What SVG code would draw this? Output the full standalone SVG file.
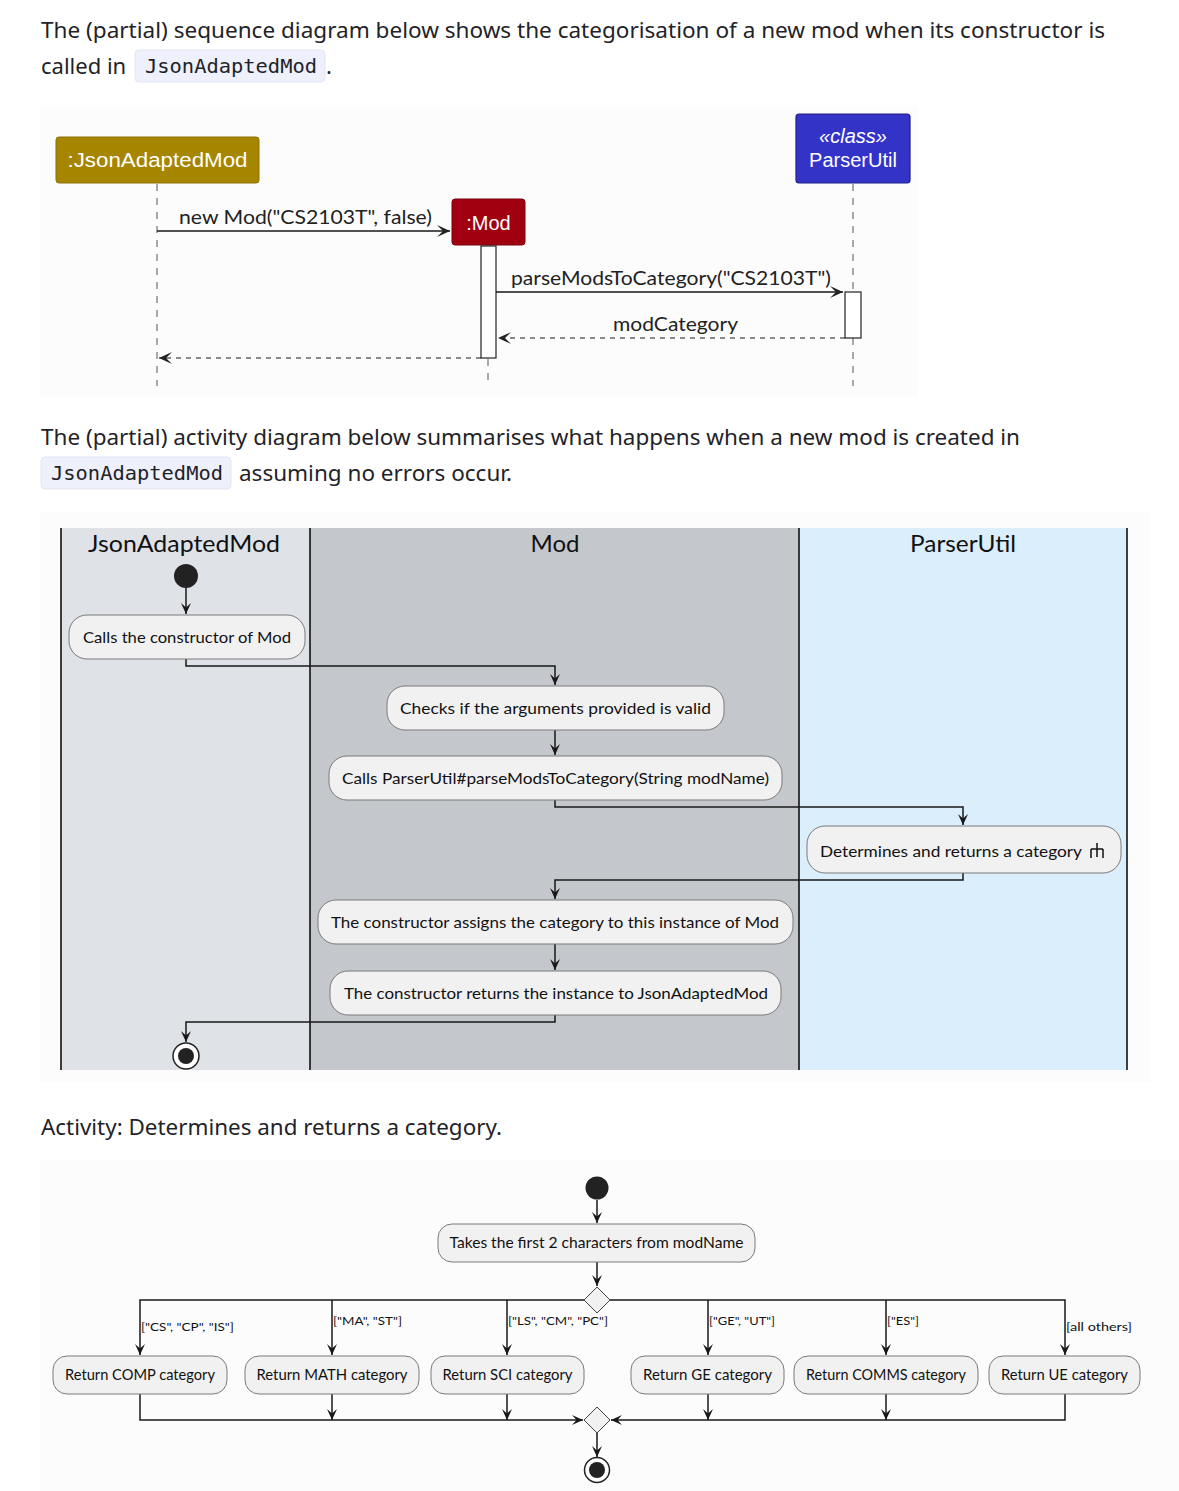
<svg xmlns="http://www.w3.org/2000/svg" width="1179" height="1491" viewBox="0 0 1179 1491">
<style>
.body{font-family:"Noto Sans","Open Sans",sans-serif;font-size:22px;fill:#1f2328}
.code{font-family:"DejaVu Sans Mono","Liberation Mono",monospace;font-size:20px;fill:#1f2328}
.codebox{fill:#eef0fb;stroke:#e3e5f5;stroke-width:1}
.seqt{font-family:"Lato","Noto Sans",sans-serif;font-size:19px;fill:#222}
.hdr{font-family:"Liberation Sans","Noto Sans",sans-serif;fill:#fff;font-size:20px}
.lane{font-family:"Lato","Noto Sans",sans-serif;font-size:24px;fill:#111}
.act{font-family:"Lato","Noto Sans",sans-serif;font-size:16px;fill:#111}
.act2{font-family:"Lato","Noto Sans",sans-serif;font-size:15px;fill:#111}
.guard{font-family:"Lato","Noto Sans",sans-serif;font-size:12px;fill:#111}
.node{fill:#f1f1f1;stroke:#7a7a7a;stroke-width:1}
.ln{fill:none;stroke:#181818;stroke-width:1.5}
.dash{fill:none;stroke:#181818;stroke-width:1.2;stroke-dasharray:5,5}
.life{fill:none;stroke:#555;stroke-width:1;stroke-dasharray:7,7}
.lanesep{stroke:#111;stroke-width:1.6}
.bg{fill:#fcfcfd}
</style>
<defs>
<marker id="ah" viewBox="-12 -6 13 12" refX="0" refY="0" markerWidth="13" markerHeight="12" orient="auto" markerUnits="userSpaceOnUse">
<path d="M0,0 L-11,-5 L-6.5,0 L-11,5 Z" fill="#181818"/>
</marker>
<marker id="sah" viewBox="-14 -7 15 14" refX="0" refY="0" markerWidth="15" markerHeight="14" orient="auto" markerUnits="userSpaceOnUse">
<path d="M0,0 L-13,-6 L-7,0 L-13,6 Z" fill="#222"/>
</marker>
</defs>
<rect x="0" y="0" width="1179" height="1491" fill="#ffffff"/>

<!-- paragraph 1 -->
<text class="body" x="41" y="38" textLength="1064" lengthAdjust="spacingAndGlyphs">The (partial) sequence diagram below shows the categorisation of a new mod when its constructor is</text>
<text class="body" x="41" y="74">called in</text>
<rect class="codebox" x="135" y="50" width="190" height="32" rx="4"/>
<text class="code" x="145" y="73" textLength="172" lengthAdjust="spacingAndGlyphs">JsonAdaptedMod</text>
<text class="body" x="326" y="74">.</text>

<!-- sequence diagram -->
<g id="sequence">
<rect class="bg" x="40" y="105" width="878" height="292"/>
<g id="seq-lifelines">
<line class="life" x1="157" y1="184" x2="157" y2="386"/>
<line class="life" x1="488" y1="359" x2="488" y2="386"/>
<line class="life" x1="853" y1="184" x2="853" y2="386"/>
</g>
<g id="p-json">
<rect x="56" y="137" width="203" height="46" rx="3" fill="#a68500" stroke="#8a7000" stroke-width="1"/>
<text class="hdr" x="157.5" y="167" text-anchor="middle" textLength="180" lengthAdjust="spacingAndGlyphs">:JsonAdaptedMod</text>
</g>
<g id="p-mod">
<rect x="452" y="199" width="73" height="46" rx="3" fill="#a00010" stroke="#7d000c" stroke-width="1"/>
<text class="hdr" x="488.5" y="230" text-anchor="middle" font-size="22">:Mod</text>
<rect x="481" y="246" width="15" height="112" fill="#ffffff" stroke="#222" stroke-width="1.2"/>
</g>
<g id="p-parser">
<rect x="796" y="114" width="114" height="69" rx="3" fill="#3333c8" stroke="#1f1f8a" stroke-width="1.2"/>
<text class="hdr" x="853" y="143" text-anchor="middle" font-style="italic">«class»</text>
<text class="hdr" x="853" y="167" text-anchor="middle">ParserUtil</text>
<rect x="845" y="292" width="16" height="46" fill="#ffffff" stroke="#222" stroke-width="1.2"/>
</g>
<g id="seq-messages">
<line class="ln" x1="157" y1="231" x2="450" y2="231" stroke-width="1.3" marker-end="url(#sah)"/>
<text class="seqt" x="179" y="224" textLength="253" lengthAdjust="spacingAndGlyphs">new Mod("CS2103T", false)</text>
<line class="ln" x1="496" y1="292" x2="843" y2="292" stroke-width="1.3" marker-end="url(#sah)"/>
<text class="seqt" x="511" y="285" textLength="320" lengthAdjust="spacingAndGlyphs">parseModsToCategory("CS2103T")</text>
<line class="dash" x1="845" y1="338" x2="498" y2="338" stroke-dasharray="3,3" marker-end="url(#sah)"/>
<text class="seqt" x="675.5" y="331" text-anchor="middle" textLength="125" lengthAdjust="spacingAndGlyphs">modCategory</text>
<line class="dash" x1="481" y1="358" x2="159" y2="358" stroke-dasharray="3,3" marker-end="url(#sah)"/>
</g>
</g>

<!-- paragraph 2 -->
<text class="body" x="41" y="445" textLength="979" lengthAdjust="spacingAndGlyphs">The (partial) activity diagram below summarises what happens when a new mod is created in</text>
<rect class="codebox" x="41" y="457" width="190" height="32" rx="4"/>
<text class="code" x="51" y="480" textLength="172" lengthAdjust="spacingAndGlyphs">JsonAdaptedMod</text>
<text class="body" x="239" y="481" textLength="273" lengthAdjust="spacingAndGlyphs">assuming no errors occur.</text>

<!-- activity diagram -->
<g id="activity">
<rect class="bg" x="40" y="512" width="1110" height="570"/>
<g id="lanes">
<rect x="61" y="528" width="249" height="542" fill="#dfe3e8"/>
<rect x="310" y="528" width="489" height="542" fill="#c4c8cc"/>
<rect x="799" y="528" width="328" height="542" fill="#dbeefc"/>
<line class="lanesep" x1="61" y1="528" x2="61" y2="1070"/>
<line class="lanesep" x1="310" y1="528" x2="310" y2="1070"/>
<line class="lanesep" x1="799" y1="528" x2="799" y2="1070"/>
<line class="lanesep" x1="1127" y1="528" x2="1127" y2="1070"/>
<text class="lane" x="184" y="552" text-anchor="middle" textLength="192" lengthAdjust="spacingAndGlyphs">JsonAdaptedMod</text>
<text class="lane" x="555" y="552" text-anchor="middle">Mod</text>
<text class="lane" x="963" y="552" text-anchor="middle" textLength="106" lengthAdjust="spacingAndGlyphs">ParserUtil</text>
</g>
<g id="a-connectors">
<path class="ln" d="M186,588 L186,614" marker-end="url(#ah)"/>
<path class="ln" d="M186,659 L186,666 L555,666 L555,685" marker-end="url(#ah)"/>
<path class="ln" d="M555,730 L555,755" marker-end="url(#ah)"/>
<path class="ln" d="M555,800 L555,807 L963,807 L963,825" marker-end="url(#ah)"/>
<path class="ln" d="M963,873 L963,880 L555,880 L555,899" marker-end="url(#ah)"/>
<path class="ln" d="M555,944 L555,970" marker-end="url(#ah)"/>
<path class="ln" d="M555,1015 L555,1022 L186,1022 L186,1042" marker-end="url(#ah)"/>
</g>
<g id="a-start"><circle cx="186" cy="576" r="12" fill="#222"/></g>
<g id="a-calls-ctor">
<rect class="node" x="69" y="615" width="236" height="44" rx="18"/>
<text class="act" x="187" y="643" text-anchor="middle" textLength="208" lengthAdjust="spacingAndGlyphs">Calls the constructor of Mod</text>
</g>
<g id="a-checks">
<rect class="node" x="387" y="686" width="337" height="44" rx="18"/>
<text class="act" x="555.5" y="714" text-anchor="middle" textLength="311" lengthAdjust="spacingAndGlyphs">Checks if the arguments provided is valid</text>
</g>
<g id="a-calls-parser">
<rect class="node" x="329" y="756" width="453" height="44" rx="18"/>
<text class="act" x="555.5" y="784" text-anchor="middle" textLength="427" lengthAdjust="spacingAndGlyphs">Calls ParserUtil#parseModsToCategory(String modName)</text>
</g>
<g id="a-determines">
<rect class="node" x="807" y="826" width="314" height="47" rx="18"/>
<text class="act" x="820" y="857" textLength="262" lengthAdjust="spacingAndGlyphs">Determines and returns a category</text>
<path d="M1097,843 L1097,857 M1091,849 L1103,849 M1091,849 L1091,858 M1103,849 L1103,858" fill="none" stroke="#111" stroke-width="1.5"/>
</g>
<g id="a-assigns">
<rect class="node" x="318" y="900" width="475" height="44" rx="18"/>
<text class="act" x="555" y="928" text-anchor="middle" textLength="448" lengthAdjust="spacingAndGlyphs">The constructor assigns the category to this instance of Mod</text>
</g>
<g id="a-returns">
<rect class="node" x="330" y="971" width="451" height="44" rx="18"/>
<text class="act" x="556" y="999" text-anchor="middle" textLength="424" lengthAdjust="spacingAndGlyphs">The constructor returns the instance to JsonAdaptedMod</text>
</g>
<g id="a-end">
<circle cx="186" cy="1056" r="13" fill="#ffffff" stroke="#222" stroke-width="1.5"/>
<circle cx="186" cy="1056" r="8" fill="#222"/>
</g>
</g>

<!-- paragraph 3 -->
<text class="body" x="41" y="1135" textLength="461" lengthAdjust="spacingAndGlyphs">Activity: Determines and returns a category.</text>

<!-- category activity -->
<g id="category">
<rect class="bg" x="40" y="1160" width="1139" height="331"/>
<g id="c-connectors">
<path class="ln" d="M597,1200 L597,1223" marker-end="url(#ah)"/>
<path class="ln" d="M597,1262 L597,1286" marker-end="url(#ah)"/>
<path class="ln" d="M584,1300 L140,1300 L140,1355" marker-end="url(#ah)"/>
<path class="ln" d="M332,1300 L332,1355" marker-end="url(#ah)"/>
<path class="ln" d="M507,1300 L507,1355" marker-end="url(#ah)"/>
<path class="ln" d="M610,1300 L1065,1300 L1065,1355" marker-end="url(#ah)"/>
<path class="ln" d="M708,1300 L708,1355" marker-end="url(#ah)"/>
<path class="ln" d="M886,1300 L886,1355" marker-end="url(#ah)"/>
<path class="ln" d="M140,1394 L140,1420 L583,1420" marker-end="url(#ah)"/>
<path class="ln" d="M1065,1394 L1065,1420 L611,1420" marker-end="url(#ah)"/>
<path class="ln" d="M332,1394 L332,1420" marker-end="url(#ah)"/>
<path class="ln" d="M507,1394 L507,1420" marker-end="url(#ah)"/>
<path class="ln" d="M708,1394 L708,1420" marker-end="url(#ah)"/>
<path class="ln" d="M886,1394 L886,1420" marker-end="url(#ah)"/>
<path class="ln" d="M597,1433 L597,1457" marker-end="url(#ah)"/>
<text class="guard" x="141" y="1331" textLength="93" lengthAdjust="spacingAndGlyphs">["CS", "CP", "IS"]</text>
<text class="guard" x="333" y="1325" textLength="69" lengthAdjust="spacingAndGlyphs">["MA", "ST"]</text>
<text class="guard" x="508" y="1325" textLength="100" lengthAdjust="spacingAndGlyphs">["LS", "CM", "PC"]</text>
<text class="guard" x="709" y="1325" textLength="66" lengthAdjust="spacingAndGlyphs">["GE", "UT"]</text>
<text class="guard" x="887" y="1325" textLength="32" lengthAdjust="spacingAndGlyphs">["ES"]</text>
<text class="guard" x="1066" y="1331" textLength="66" lengthAdjust="spacingAndGlyphs">[all others]</text>
</g>
<g id="c-start"><circle cx="597" cy="1188" r="11.5" fill="#222"/></g>
<g id="c-takes">
<rect class="node" x="438" y="1224" width="317" height="38" rx="14"/>
<text class="act2" x="596.5" y="1248" text-anchor="middle" textLength="294" lengthAdjust="spacingAndGlyphs">Takes the first 2 characters from modName</text>
</g>
<g id="c-split"><path d="M597,1287 L610,1300 L597,1313 L584,1300 Z" fill="#f1f1f1" stroke="#444" stroke-width="1"/></g>
<g id="c-comp">
<rect class="node" x="53" y="1356" width="174" height="38" rx="14"/>
<text class="act2" x="140" y="1380" text-anchor="middle" textLength="150" lengthAdjust="spacingAndGlyphs">Return COMP category</text>
</g>
<g id="c-math">
<rect class="node" x="245" y="1356" width="174" height="38" rx="14"/>
<text class="act2" x="332" y="1380" text-anchor="middle" textLength="151" lengthAdjust="spacingAndGlyphs">Return MATH category</text>
</g>
<g id="c-sci">
<rect class="node" x="431" y="1356" width="153" height="38" rx="14"/>
<text class="act2" x="507.5" y="1380" text-anchor="middle" textLength="130" lengthAdjust="spacingAndGlyphs">Return SCI category</text>
</g>
<g id="c-ge">
<rect class="node" x="631" y="1356" width="153" height="38" rx="14"/>
<text class="act2" x="707.5" y="1380" text-anchor="middle" textLength="129" lengthAdjust="spacingAndGlyphs">Return GE category</text>
</g>
<g id="c-comms">
<rect class="node" x="794" y="1356" width="184" height="38" rx="14"/>
<text class="act2" x="886" y="1380" text-anchor="middle" textLength="160" lengthAdjust="spacingAndGlyphs">Return COMMS category</text>
</g>
<g id="c-ue">
<rect class="node" x="989" y="1356" width="151" height="38" rx="14"/>
<text class="act2" x="1064.5" y="1380" text-anchor="middle" textLength="127" lengthAdjust="spacingAndGlyphs">Return UE category</text>
</g>
<g id="c-merge"><path d="M597,1407 L610,1420 L597,1433 L584,1420 Z" fill="#f1f1f1" stroke="#444" stroke-width="1"/></g>
<g id="c-end">
<circle cx="597" cy="1470" r="12.5" fill="#ffffff" stroke="#222" stroke-width="1.5"/>
<circle cx="597" cy="1470" r="8" fill="#222"/>
</g>
</g>
</svg>
